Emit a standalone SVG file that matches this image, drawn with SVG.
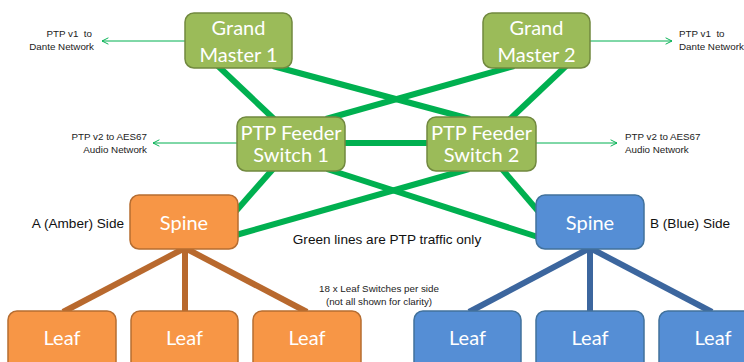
<svg xmlns="http://www.w3.org/2000/svg" width="744" height="362" viewBox="0 0 744 362">
<defs>
<marker id="arr" viewBox="0 0 10 10" refX="9" refY="5" markerWidth="8" markerHeight="8" orient="auto" markerUnits="userSpaceOnUse">
<path d="M1,1 L9,5 L1,9" fill="none" stroke="#00B050" stroke-width="1.2"/>
</marker>
<style>
.g{fill:#9BBB59;stroke:#71893F;stroke-width:1.5}
.o{fill:#F79646;stroke:#B66D31;stroke-width:1.5}
.b{fill:#558ED5;stroke:#41719C;stroke-width:1.5}
.nt{font-family:Lato,"Open Sans",sans-serif;font-size:20px;fill:#fff;text-anchor:middle}
.sm{font-family:"Liberation Sans",Arial,sans-serif;font-size:9.8px;fill:#222}
.md{font-family:"Liberation Sans",Arial,sans-serif;font-size:13.6px;fill:#111}
.gl{stroke:#00B050;stroke-width:6;fill:none}
.ol{stroke:#B8692E;stroke-width:6;fill:none}
.bl{stroke:#3C669E;stroke-width:6;fill:none}
.al{stroke:#00B050;stroke-width:1;fill:none;marker-end:url(#arr)}
</style>
</defs>
<g id="connectors">
<line class="gl" x1="218" y1="66" x2="274" y2="119"/>
<line class="gl" x1="273" y1="66" x2="470" y2="119"/>
<line class="gl" x1="514" y1="66" x2="326" y2="119"/>
<line class="gl" x1="566" y1="66" x2="510" y2="119"/>
<line class="gl" x1="345" y1="143" x2="427" y2="143"/>
<line class="gl" x1="273" y1="169" x2="236" y2="211"/>
<line class="gl" x1="327" y1="169" x2="538" y2="237"/>
<line class="gl" x1="469" y1="169" x2="236" y2="235"/>
<line class="gl" x1="502" y1="169" x2="538" y2="211"/>
<line class="ol" x1="185" y1="248" x2="63" y2="312"/>
<line class="ol" x1="185" y1="248" x2="185" y2="312"/>
<line class="ol" x1="185" y1="248" x2="307" y2="312"/>
<line class="bl" x1="590" y1="248" x2="469" y2="312"/>
<line class="bl" x1="590" y1="248" x2="590" y2="312"/>
<line class="bl" x1="590" y1="248" x2="712" y2="312"/>
<line class="al" x1="185" y1="41" x2="102" y2="41"/>
<line class="al" x1="590" y1="41" x2="672" y2="41"/>
<line class="al" x1="237" y1="143" x2="153" y2="143"/>
<line class="al" x1="536" y1="143" x2="617" y2="143"/>
</g>
<g id="gm1"><rect class="g" x="185" y="13" width="107" height="55" rx="9"/><text class="nt" x="238.5" y="35">Grand</text><text class="nt" x="238.5" y="62">Master 1</text></g>
<g id="gm2"><rect class="g" x="483" y="13" width="107" height="55" rx="9"/><text class="nt" x="536.5" y="35">Grand</text><text class="nt" x="536.5" y="62">Master 2</text></g>
<g id="fs1"><rect class="g" x="237" y="117" width="108" height="54" rx="9"/><text class="nt" x="291" y="140">PTP Feeder</text><text class="nt" x="291" y="162">Switch 1</text></g>
<g id="fs2"><rect class="g" x="427" y="117" width="109" height="54" rx="9"/><text class="nt" x="481.5" y="140">PTP Feeder</text><text class="nt" x="481.5" y="162">Switch 2</text></g>
<g id="spineA"><rect class="o" x="130" y="195" width="108" height="54" rx="9"/><text class="nt" x="184" y="230">Spine</text></g>
<g id="spineB"><rect class="b" x="536" y="195" width="108" height="54" rx="9"/><text class="nt" x="590" y="230">Spine</text></g>
<g id="leafA1"><rect class="o" x="8" y="311" width="108" height="60" rx="9"/><text class="nt" x="62" y="345">Leaf</text></g>
<g id="leafA2"><rect class="o" x="131" y="311" width="107" height="60" rx="9"/><text class="nt" x="184.5" y="345">Leaf</text></g>
<g id="leafA3"><rect class="o" x="253" y="311" width="108" height="60" rx="9"/><text class="nt" x="307" y="345">Leaf</text></g>
<g id="leafB1"><rect class="b" x="414" y="311" width="107" height="60" rx="9"/><text class="nt" x="467.5" y="345">Leaf</text></g>
<g id="leafB2"><rect class="b" x="536" y="311" width="108" height="60" rx="9"/><text class="nt" x="590" y="345">Leaf</text></g>
<g id="leafB3"><rect class="b" x="659" y="311" width="108" height="60" rx="9"/><text class="nt" x="713" y="345">Leaf</text></g>
<g id="labels">
<text class="sm" x="92" y="37" text-anchor="end">PTP v1&#160; to</text>
<text class="sm" x="94" y="50" text-anchor="end">Dante Network</text>
<text class="sm" x="679" y="37">PTP v1&#160; to</text>
<text class="sm" x="679" y="50">Dante Network</text>
<text class="sm" x="147" y="140" text-anchor="end">PTP v2 to AES67</text>
<text class="sm" x="147" y="153" text-anchor="end">Audio Network</text>
<text class="sm" x="625" y="140">PTP v2 to AES67</text>
<text class="sm" x="625" y="153">Audio Network</text>
<text class="md" x="124" y="228" text-anchor="end">A (Amber) Side</text>
<text class="md" x="650" y="228">B (Blue) Side</text>
<text class="md" x="387" y="244" text-anchor="middle">Green lines are PTP traffic only</text>
<text class="sm" x="379" y="292" text-anchor="middle">18 x Leaf Switches per side</text>
<text class="sm" x="379" y="305" text-anchor="middle">(not all shown for clarity)</text>
</g>
</svg>
